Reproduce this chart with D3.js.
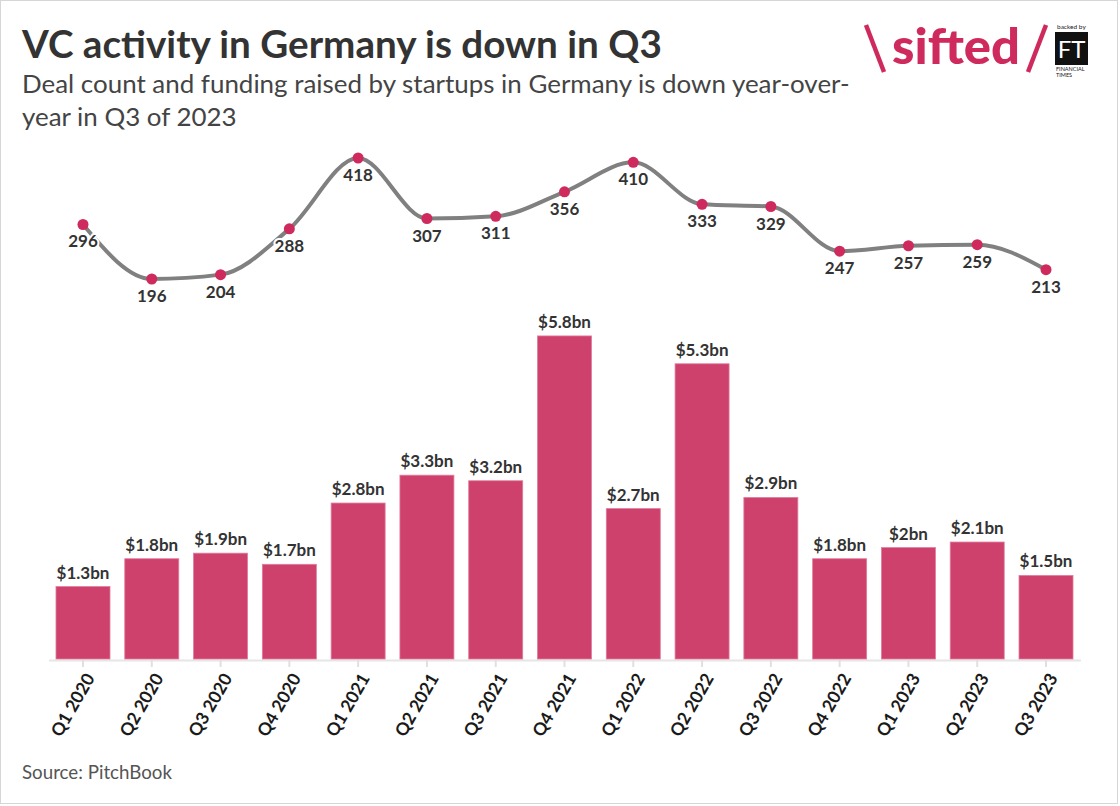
<!DOCTYPE html>
<html><head><meta charset="utf-8">
<script src="https://cdn.jsdelivr.net/npm/d3@7"></script>
<style>body{margin:0;background:#fff} svg{display:block} text{font-family:Lato,"Noto Sans",sans-serif}</style>
</head><body><svg id="c" width="1120" height="806"></svg>
<script>
const quarters = ["Q1 2020","Q2 2020","Q3 2020","Q4 2020","Q1 2021","Q2 2021","Q3 2021","Q4 2021","Q1 2022","Q2 2022","Q3 2022","Q4 2022","Q1 2023","Q2 2023","Q3 2023"];
const funding = [1.3,1.8,1.9,1.7,2.8,3.3,3.2,5.8,2.7,5.3,2.9,1.8,2.0,2.1,1.5];
const fundingLabels = ["$1.3bn","$1.8bn","$1.9bn","$1.7bn","$2.8bn","$3.3bn","$3.2bn","$5.8bn","$2.7bn","$5.3bn","$2.9bn","$1.8bn","$2bn","$2.1bn","$1.5bn"];
const deals = [296,196,204,288,418,307,311,356,410,333,329,247,257,259,213];

const svg = d3.select("#c");
const crimson = "#cf2a5e", barCol = "#cf416d";

svg.append("rect").attr("x",0.5).attr("y",0.5).attr("width",1117).attr("height",803)
  .attr("fill","#fff").attr("stroke","#d6d6d6");

function fit(sel, w){
  const l = sel.node().getComputedTextLength();
  sel.attr("font-size", parseFloat(sel.attr("font-size"))*w/l);
}

const title = svg.append("text").attr("x",22).attr("y",58).attr("font-size",33).attr("font-weight",700)
  .attr("fill","#333").text("VC activity in Germany is down in Q3");
fit(title, 640);
const s1 = svg.append("text").attr("x",22).attr("y",93).attr("font-size",24).attr("fill","#444")
  .text("Deal count and funding raised by startups in Germany is down year-over-");
fit(s1, 828);
svg.append("text").attr("x",22).attr("y",126).attr("font-size",s1.attr("font-size")).attr("fill","#444")
  .text("year in Q3 of 2023");
const src = svg.append("text").attr("x",22).attr("y",779).attr("font-size",18).attr("fill","#555").text("Source: PitchBook");
fit(src, 150);

// logo
const logo = svg.append("g");
logo.append("line").attr("x1",866).attr("y1",25).attr("x2",884).attr("y2",72).attr("stroke",crimson).attr("stroke-width",4.5);
logo.append("text").attr("x",892).attr("y",64).attr("font-size",50).attr("font-weight",900).attr("fill",crimson)
  .attr("textLength",128).attr("lengthAdjust","spacingAndGlyphs").text("sifted");
logo.append("line").attr("x1",1046).attr("y1",25).attr("x2",1028).attr("y2",72).attr("stroke",crimson).attr("stroke-width",4.5);
logo.append("text").attr("x",1057).attr("y",29).attr("font-size",6.5).attr("fill","#222").text("backed by");
logo.append("rect").attr("x",1055).attr("y",32).attr("width",33).attr("height",33).attr("fill","#111");
logo.append("text").attr("x",1071.5).attr("y",58).attr("text-anchor","middle").attr("font-size",24)
  .attr("font-family","'Liberation Serif',serif").attr("fill","#fff").text("FT");
logo.append("text").attr("x",1056).attr("y",71).attr("font-size",5.5).attr("font-family","'Liberation Serif',serif").attr("fill","#111").text("FINANCIAL");
logo.append("text").attr("x",1056).attr("y",77).attr("font-size",5.5).attr("font-family","'Liberation Serif',serif").attr("fill","#111").text("TIMES");

// scales
const x = d3.scaleBand().domain(quarters).range([48.6,1080.4]).paddingInner(0.215).paddingOuter(0.1075);
const yBar = d3.scaleLinear().domain([0,6]).range([659,659-6*55.7]);
const yDeal = d3.scaleLinear().domain([196,418]).range([279,158]);

// axis
const ax = svg.append("g").attr("transform","translate(0,660)")
  .call(d3.axisBottom(x).tickSize(7).tickSizeOuter(0));
ax.select(".domain").attr("stroke","#e6e6e6").attr("stroke-width",2);
ax.selectAll(".tick line").attr("stroke","#e0e0e0").attr("stroke-width",2);
ax.selectAll(".tick text").attr("x",0).attr("y",0).attr("dy","0.35em")
  .attr("transform","translate(7,15) rotate(-60)").attr("text-anchor","end")
  .attr("font-size",17.5).attr("font-weight",700).attr("fill","#1a1a1a")
  .attr("font-family","Lato,'Noto Sans',sans-serif");

// bars
svg.append("g").selectAll("rect").data(funding).join("rect")
  .attr("x",(d,i)=>x(quarters[i])).attr("width",x.bandwidth())
  .attr("y",d=>yBar(d)).attr("height",d=>yBar(0)-yBar(d))
  .attr("fill",barCol).attr("stroke","#e07c9c").attr("stroke-width",0.8);
svg.append("g").selectAll("text").data(funding).join("text")
  .attr("x",(d,i)=>x(quarters[i])+x.bandwidth()/2).attr("y",d=>yBar(d)-8)
  .attr("text-anchor","middle").attr("font-size",17).attr("font-weight",700).attr("fill","#333")
  .text((d,i)=>fundingLabels[i]);

// line
const cx = i => x(quarters[i])+x.bandwidth()/2;
const line = d3.line().x((d,i)=>cx(i)).y(d=>yDeal(d)).curve(d3.curveMonotoneX);
svg.append("path").datum(deals).attr("d",line).attr("fill","none").attr("stroke","#808080").attr("stroke-width",4);
svg.append("g").selectAll("text").data(deals).join("text")
  .attr("x",(d,i)=>cx(i)).attr("y",d=>yDeal(d)+23)
  .attr("text-anchor","middle").attr("font-size",17).attr("font-weight",700).attr("fill","#333")
  .attr("stroke","#fff").attr("stroke-width",4).attr("paint-order","stroke").attr("stroke-linejoin","round")
  .text(d=>d);
svg.append("g").selectAll("circle").data(deals).join("circle")
  .attr("cx",(d,i)=>cx(i)).attr("cy",d=>yDeal(d)).attr("r",5.5).attr("fill",crimson);
</script></body></html>
